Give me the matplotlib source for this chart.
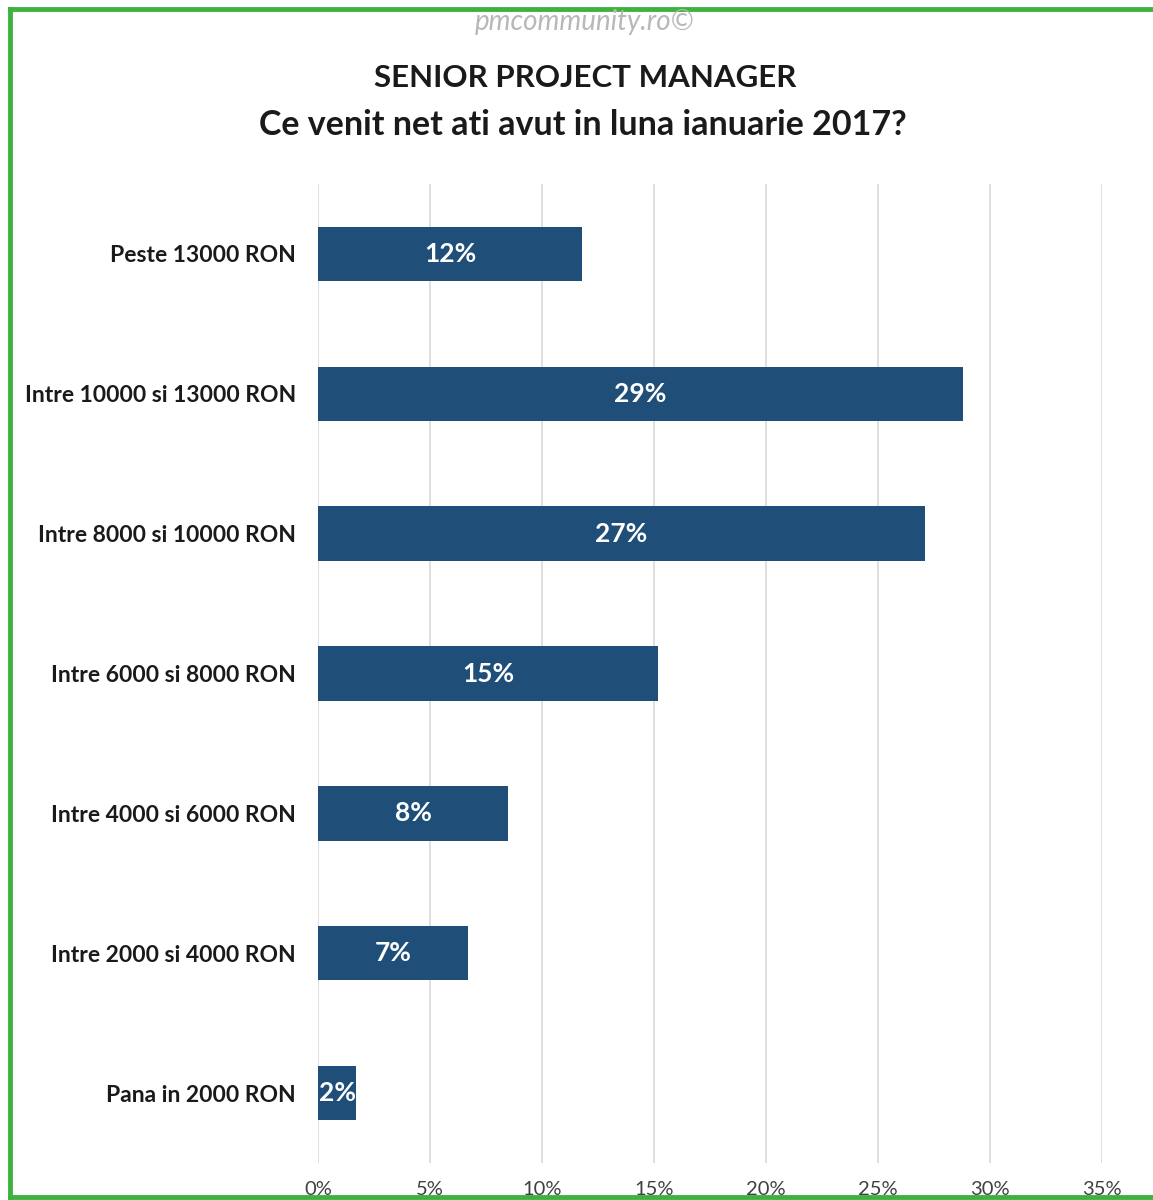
"""
Senior PM - venit net ianuarie 2017 (bare orizontale)
"""

import matplotlib
matplotlib.use('Agg')
import matplotlib.pyplot as plt
from matplotlib.lines import Line2D
from matplotlib.ticker import FuncFormatter

categories = [
    "Pana in 2000 RON",
    "Intre 2000 si 4000 RON",
    "Intre 4000 si 6000 RON",
    "Intre 6000 si 8000 RON",
    "Intre 8000 si 10000 RON",
    "Intre 10000 si 13000 RON",
    "Peste 13000 RON",
]
values = [1.7, 6.7, 8.5, 15.2, 27.1, 28.8, 11.8]
xticks = [0, 5, 10, 15, 20, 25, 30, 35]

W, H = 1153, 1200
plt.rcParams['font.family'] = ['Lato', 'DejaVu Sans']

fig = plt.figure(figsize=(W / 100, H / 100), dpi=100)
ax = fig.add_axes([318 / W, 1 - 1163 / H, (1102 - 318) / W, (1163 - 184) / H])

bars = ax.barh(range(len(categories)), values, height=0.39, color='#1F4E79', zorder=3)
for bar, val in zip(bars, values):
    ax.text(bar.get_width() / 2, bar.get_y() + bar.get_height() / 2,
            f"{round(val):.0f}%", ha='center', va='center',
            color='white', fontsize=19, fontweight='bold', zorder=4)

ax.set_xlim(0, 35)
ax.set_ylim(-0.5, len(categories) - 0.5)
ax.set_xticks(xticks)
ax.xaxis.set_major_formatter(FuncFormatter(lambda v, p: f"{v:.0f}%"))
ax.set_yticks(range(len(categories)))
ax.set_yticklabels(categories, fontsize=16.5, fontweight='bold', color='#1a1a1a')
ax.tick_params(axis='y', length=0, pad=16)
ax.tick_params(axis='x', length=0, pad=13, labelsize=14.5, labelcolor='#404040')
ax.grid(axis='x', color='#D9D9D9', linewidth=1.2, zorder=0)
for s in ax.spines.values():
    s.set_visible(False)

# titlu + watermark
fig.text(585 / W, 1 - 22 / H, "pmcommunity.ro©", ha='center', va='center',
         fontsize=20, style='italic', color='#B8B8B8')
fig.text(585 / W, 1 - 78 / H, "SENIOR PROJECT MANAGER", ha='center', va='center',
         fontsize=22.5, fontweight='bold', color='#1a1a1a')
fig.text(583 / W, 1 - 125 / H, "Ce venit net ati avut in luna ianuarie 2017?", ha='center',
         va='center', fontsize=24.5, fontweight='bold', color='#1a1a1a')

# chenar verde
green = '#3DB33D'
for xs, ys in [([10 / W, 1], [1 - 9 / H, 1 - 9 / H]),
               ([10 / W, 10 / W], [1 - 9 / H, 1 - 1197 / H]),
               ([10 / W, 1], [1 - 1197 / H, 1 - 1197 / H])]:
    fig.add_artist(Line2D(xs, ys, transform=fig.transFigure, color=green,
                          linewidth=3.5, zorder=0))

plt.savefig('out.png', dpi=100)
plt.close()
print("Saved out.png")
